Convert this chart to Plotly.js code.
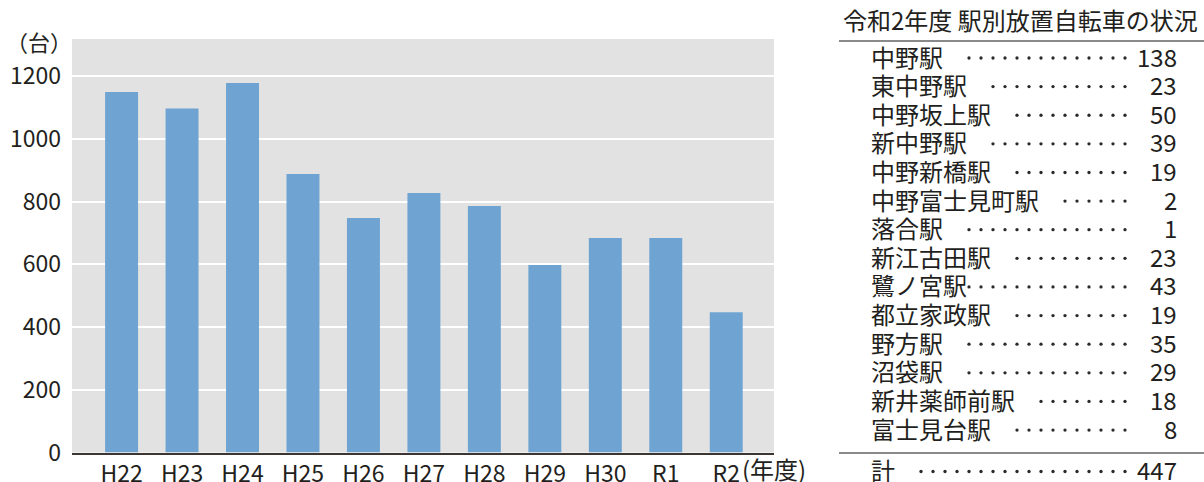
<!DOCTYPE html>
<html>
<head>
<meta charset="utf-8">
<script src="https://cdn.plot.ly/plotly-3.0.1.min.js"></script>
<style>html,body{margin:0;padding:0;background:#fff;}#chart{width:1204px;height:482px;}</style>
</head>
<body>
<div id="chart"></div>
<script>
// ---- data ----
const years = ['H22','H23','H24','H25','H26','H27','H28','H29','H30','R1','R2'];
const bikeCounts = [1150, 1097, 1179, 888, 748, 828, 786, 598, 684, 684, 447];
const yTickValues = [0, 200, 400, 600, 800, 1000, 1200];
const yUnitLabel = '（台）';
const xUnitLabel = '(年度)';

const tableTitle = '令和2年度 駅別放置自転車の状況';
const stations = ['中野駅','東中野駅','中野坂上駅','新中野駅','中野新橋駅','中野富士見町駅','落合駅','新江古田駅','鷺ノ宮駅','都立家政駅','野方駅','沼袋駅','新井薬師前駅','富士見台駅'];
const stationCounts = [138, 23, 50, 39, 19, 2, 1, 23, 43, 19, 35, 29, 18, 8];
const leaderDots = [14, 12, 10, 12, 10, 6, 14, 10, 14, 10, 14, 14, 8, 10];
const totalLabel = '計';
const totalCount = 447;
const totalDots = 18;

// ---- layout constants (pixels) ----
const W = 1204, H = 482;
const FONT = '"Noto Sans CJK JP", "Noto Sans CJK SC", sans-serif';
const TXT = '#231f20';
const plotL = 72, plotR = 774, plotT = 39, plotB = 452.5;
const rowY0 = 56, rowPitch = 28.62;
const nameX = 869, numX = 1179, dotEndX = 1125, dotStep = 12;
const totalY = 469.5;

const traces = [{
  type: 'bar', x: years, y: bikeCounts,
  marker: {color: '#6fa4d2'},
  xaxis: 'x', yaxis: 'y', hoverinfo: 'skip'
}];

// leader dots (table subplot in pixel space)
const dx = [], dy = [];
leaderDots.forEach((n, i) => {
  for (let k = 0; k < n; k++) { dx.push(dotEndX - k * dotStep); dy.push(rowY0 + 2 + i * rowPitch); }
});
for (let k = 0; k < totalDots; k++) { dx.push(dotEndX - k * dotStep); dy.push(totalY + 2); }
traces.push({
  type: 'scatter', mode: 'markers', x: dx, y: dy, xaxis: 'x2', yaxis: 'y2',
  marker: {size: 3.3, color: '#2a2a2a'}, hoverinfo: 'skip', showlegend: false
});

const annotations = [];
const shapes = [];
// unit labels
annotations.push({xref: 'paper', yref: 'paper', x: 4 / W, y: 1 - 41 / H, xanchor: 'left', yanchor: 'middle',
  text: yUnitLabel, showarrow: false, font: {family: FONT, size: 22, color: TXT}});
annotations.push({xref: 'paper', yref: 'paper', x: 740 / W, y: 1 - 468 / H, xanchor: 'left', yanchor: 'middle',
  text: xUnitLabel, showarrow: false, font: {family: FONT, size: 24, color: TXT}});

// table
annotations.push({xref: 'x2', yref: 'y2', x: 841, y: 19, xanchor: 'left', yanchor: 'middle',
  text: tableTitle, showarrow: false, font: {family: FONT, size: 24, color: TXT}});
stations.forEach((s, i) => {
  const y = rowY0 + i * rowPitch;
  annotations.push({xref: 'x2', yref: 'y2', x: nameX, y: y, xanchor: 'left', yanchor: 'middle',
    text: s, showarrow: false, font: {family: FONT, size: 24, color: TXT}});
  annotations.push({xref: 'x2', yref: 'y2', x: numX, y: y, xanchor: 'right', yanchor: 'middle',
    text: String(stationCounts[i]), showarrow: false, font: {family: FONT, size: 24, color: TXT}});
});
annotations.push({xref: 'x2', yref: 'y2', x: nameX, y: totalY, xanchor: 'left', yanchor: 'middle',
  text: totalLabel, showarrow: false, font: {family: FONT, size: 24, color: TXT}});
annotations.push({xref: 'x2', yref: 'y2', x: numX, y: totalY, xanchor: 'right', yanchor: 'middle',
  text: String(totalCount), showarrow: false, font: {family: FONT, size: 24, color: TXT}});

shapes.push({type: 'line', xref: 'x2', yref: 'y2', x0: 839, x1: 1204, y0: 41, y1: 41,
  line: {color: '#8a8a8a', width: 2}});
shapes.push({type: 'line', xref: 'x2', yref: 'y2', x0: 839, x1: 1204, y0: 453, y1: 453,
  line: {color: '#8a8a8a', width: 2}});
// plot background
shapes.push({type: 'rect', xref: 'x domain', yref: 'y domain', x0: 0, x1: 1, y0: 0, y1: 1,
  fillcolor: '#e1e2e1', line: {width: 0}, layer: 'below'});

const layout = {
  width: W, height: H,
  margin: {l: 0, r: 0, t: 0, b: 0, pad: 0},
  paper_bgcolor: '#ffffff', plot_bgcolor: 'rgba(0,0,0,0)',
  showlegend: false,
  bargap: 0.455,
  font: {family: FONT, size: 23, color: TXT},
  xaxis: {
    domain: [plotL / W, plotR / W], anchor: 'y', type: 'category',
    range: [-0.82, 10.79], fixedrange: true,
    showgrid: false, zeroline: false, showline: true, linecolor: '#3c3532', linewidth: 2,
    ticks: '', ticklabelstandoff: 0,
    tickfont: {family: FONT, size: 23, color: TXT}
  },
  yaxis: {
    domain: [(H - plotB) / H, (H - plotT) / H], anchor: 'x',
    range: [0, 1319], fixedrange: true,
    tickvals: yTickValues, ticktext: yTickValues.map(String),
    showgrid: true, gridcolor: '#ffffff', gridwidth: 2, zeroline: false, showline: false,
    ticks: '', ticklabelstandoff: 10,
    tickfont: {family: FONT, size: 23, color: TXT}
  },
  xaxis2: {domain: [830 / W, 1], anchor: 'y2', range: [830, 1204], visible: false, fixedrange: true},
  yaxis2: {domain: [0, 1], anchor: 'x2', range: [482, 0], visible: false, fixedrange: true},
  annotations: annotations,
  shapes: shapes
};

Plotly.newPlot('chart', traces, layout, {staticPlot: true, displayModeBar: false});
</script>
</body>
</html>
